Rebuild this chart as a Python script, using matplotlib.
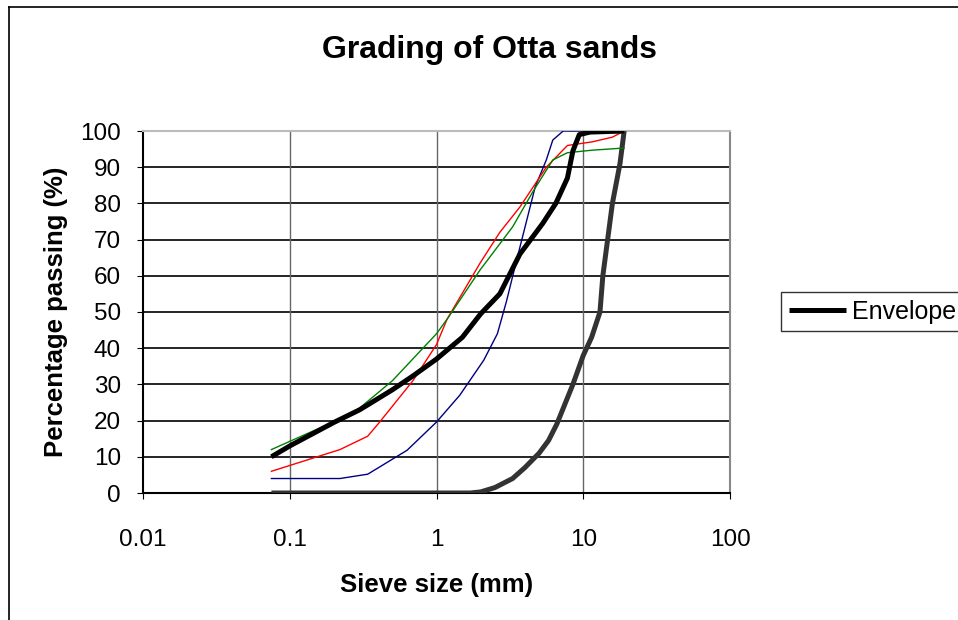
import matplotlib
matplotlib.use("Agg")
import matplotlib.pyplot as plt
from matplotlib.lines import Line2D
import numpy as np

plt.rcParams['font.family'] = ['Liberation Sans', 'DejaVu Sans']

# sieve sizes (mm) and percentage passing
env_size = [0.075, 0.1, 0.2, 0.3, 0.5, 0.7, 1.0, 1.5, 2.0, 2.7, 3.7, 5.3, 6.5, 7.8, 8.5, 9.4, 11.1, 19.0]
env_pass = [10, 13, 19.5, 23, 28.5, 32.5, 37, 43, 49.5, 55, 66, 74.5, 80, 87, 94.5, 99, 99.7, 100]

coarse_size = [0.075, 0.4, 1.0, 1.7, 2.0, 2.5, 3.3, 4.0, 5.0, 5.8, 6.6, 8.5, 10.0, 11.4, 13.0, 13.6, 15.8, 17.8, 19.0]
coarse_pass = [0, 0, 0, 0, 0.3, 1.5, 4, 7, 11, 14.5, 19, 30, 38, 43, 50, 60, 80, 91, 100]

blue_size = [0.075, 0.22, 0.34, 0.63, 1.0, 1.44, 2.1, 2.6, 3.0, 3.5, 4.1, 4.7, 5.6, 6.2, 7.3, 19.0]
blue_pass = [4, 4, 5.2, 11.8, 19.6, 27, 36.7, 44, 53, 64, 75, 84.5, 92, 97.5, 100, 100]

red_size = [0.075, 0.22, 0.34, 0.41, 0.69, 1.0, 1.18, 1.98, 2.7, 3.7, 5.6, 7.8, 11.5, 15.8, 19.0]
red_pass = [6, 12, 15.7, 19.6, 31, 41, 48, 63.5, 72, 79, 90, 96, 97, 98.3, 100]

green_size = [0.075, 0.2, 0.29, 0.5, 1.0, 1.18, 1.98, 3.3, 4.5, 6.2, 7.8, 11.5, 19.0]
green_pass = [12, 19.7, 23, 31, 44, 48, 61.6, 73.5, 83, 92, 94, 94.7, 95.3]

x_ticks = [0.01, 0.1, 1, 10, 100]
x_labels = ['0.01', '0.1', '1', '10', '100']
y_ticks = list(range(0, 101, 10))

fig = plt.figure(figsize=(9.58, 6.2), dpi=100)
ax = fig.add_axes([143 / 958, 1 - 493 / 620, (730 - 143) / 958, (493 - 131) / 620])

ax.set_xscale('log')
ax.set_xlim(0.01, 100)
ax.set_ylim(0, 100)

# grid
for y in y_ticks[1:]:
    ax.axhline(y, color='black', lw=1.2, zorder=1)
for x in x_ticks[1:-1]:
    ax.axvline(x, color='#666666', lw=1.0, zorder=1)

ax.plot(coarse_size, coarse_pass, color='#333333', lw=3.6, solid_capstyle='butt', zorder=3)
ax.plot(blue_size, blue_pass, color='#000080', lw=1.0, zorder=4)
ax.plot(red_size, red_pass, color='#ff0000', lw=1.0, zorder=4)
ax.plot(green_size, green_pass, color='#008000', lw=1.0, zorder=4)
ax.plot(env_size, env_pass, color='black', lw=3.6, solid_capstyle='butt', zorder=5, label='Envelope')

ax.set_xticks(x_ticks)
ax.set_xticklabels(x_labels)
ax.xaxis.set_minor_locator(matplotlib.ticker.NullLocator())
ax.set_yticks(y_ticks)
ax.tick_params(axis='both', labelsize=17.5, length=4, direction='out', color='black')
ax.tick_params(axis='x', pad=22)
ax.tick_params(axis='y', pad=12)

ax.spines['left'].set_color('black')
ax.spines['bottom'].set_color('black')
ax.spines['left'].set_linewidth(1.5)
ax.spines['bottom'].set_linewidth(1.5)
ax.spines['top'].set_color('#bbbbbb')
ax.spines['right'].set_color('#888888')
ax.spines['top'].set_linewidth(1.5)
ax.spines['right'].set_linewidth(1.5)

ax.set_xlabel('Sieve size (mm)', fontsize=18.5, fontweight='bold', labelpad=16)
ax.set_ylabel('Percentage passing (%)', fontsize=18.5, fontweight='bold', labelpad=9)

fig.text(490 / 958, 1 - 50 / 620, 'Grading of Otta sands', ha='center', va='center',
         fontsize=23, fontweight='bold')

leg = ax.legend(loc='center left', bbox_to_anchor=(781 / 958, 1 - 312 / 620),
                bbox_transform=fig.transFigure, fontsize=18, frameon=True, fancybox=False,
                handlelength=2.3, borderpad=0.3, handletextpad=0.25, borderaxespad=0)
leg.get_frame().set_edgecolor('black')
leg.get_frame().set_linewidth(1.0)

# outer chart border (cut off at right and bottom)
fig.add_artist(Line2D([9 / 958, 9 / 958], [0, 1 - 7 / 620], color='black', lw=1.2, transform=fig.transFigure))
fig.add_artist(Line2D([9 / 958, 1], [1 - 7 / 620, 1 - 7 / 620], color='black', lw=1.2, transform=fig.transFigure))

fig.savefig('out.png', dpi=100)
